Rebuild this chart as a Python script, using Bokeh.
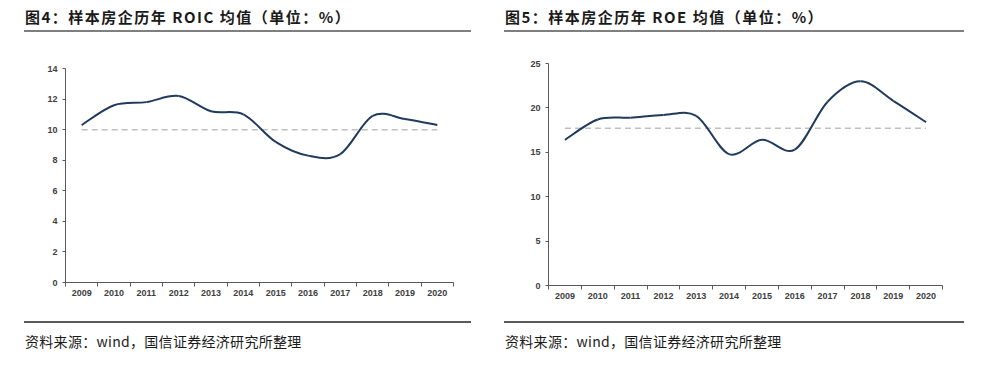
from bokeh.plotting import figure
from bokeh.models import ColumnDataSource, FixedTicker, Range1d, Div
from bokeh.layouts import row, column
from bokeh.embed import file_html
from bokeh.resources import INLINE

# ---- data ----
years = ["2009", "2010", "2011", "2012", "2013", "2014",
         "2015", "2016", "2017", "2018", "2019", "2020"]
roic = [10.3, 11.6, 11.8, 12.2, 11.2, 11.0, 9.2, 8.3, 8.4, 10.9, 10.7, 10.3]
roic_ref = 10.0
roe = [16.4, 18.7, 18.9, 19.2, 19.1, 14.8, 16.4, 15.3, 20.7, 23.0, 20.8, 18.4]
roe_ref = 17.7
roic_ticks = [0, 2, 4, 6, 8, 10, 12, 14]
roe_ticks = [0, 5, 10, 15, 20, 25]
title_left = "图4：样本房企历年 ROIC 均值（单位：%）"
title_right = "图5：样本房企历年 ROE 均值（单位：%）"
source_text = "资料来源：wind，国信证券经济研究所整理"

LINE = "#1f3a5c"
CJK = "'Noto Sans CJK SC'"
HEAD_H = 40
CHART_H = 270
FOOT_H = 74


def bezier_source(vals):
    n = len(vals)
    xs = [i + 0.5 for i in range(n)]
    d = dict(x0=[], y0=[], x1=[], y1=[], cx0=[], cy0=[], cx1=[], cy1=[])
    for i in range(n - 1):
        a = max(i - 1, 0)
        b = min(i + 2, n - 1)
        d["x0"].append(xs[i]); d["y0"].append(vals[i])
        d["x1"].append(xs[i + 1]); d["y1"].append(vals[i + 1])
        d["cx0"].append(xs[i] + (xs[i + 1] - xs[a]) / 6)
        d["cy0"].append(vals[i] + (vals[i + 1] - vals[a]) / 6)
        d["cx1"].append(xs[i + 1] - (xs[b] - xs[i]) / 6)
        d["cy1"].append(vals[i + 1] - (vals[b] - vals[i]) / 6)
    return ColumnDataSource(d)


def header(width, title, tx, r0, r1):
    html = (
        f'<div style="position:relative;width:{width}px;height:{HEAD_H}px;">'
        f'<div style="position:absolute;left:{tx}px;top:6px;font-family:{CJK};'
        f'font-size:15px;font-weight:bold;letter-spacing:1.5px;line-height:22px;'
        f'color:#1a1a1a;white-space:nowrap;">{title}</div>'
        f'<div style="position:absolute;left:{r0}px;top:30px;width:{r1 - r0}px;'
        f'height:2px;background:#7f7f7f;"></div></div>'
    )
    return Div(text=html, width=width, height=HEAD_H, margin=(0, 0, 0, 0))


def footer(width, tx, r0, r1):
    html = (
        f'<div style="position:relative;width:{width}px;height:{FOOT_H}px;">'
        f'<div style="position:absolute;left:{r0}px;top:11px;width:{r1 - r0}px;'
        f'height:1.5px;background:#595959;"></div>'
        f'<div style="position:absolute;left:{tx}px;top:21px;font-family:{CJK};'
        f'font-size:14px;letter-spacing:0.3px;line-height:20px;color:#1a1a1a;'
        f'white-space:nowrap;">{source_text}</div></div>'
    )
    return Div(text=html, width=width, height=FOOT_H, margin=(0, 0, 0, 0))


def chart(vals, ref, ticks, width, left, right, top, bottom):
    p = figure(width=width, height=CHART_H, output_backend="svg", toolbar_location=None,
               x_range=Range1d(0, len(years)), y_range=Range1d(ticks[0], ticks[-1]),
               min_border_left=left, min_border_right=right,
               min_border_top=top, min_border_bottom=bottom)
    p.outline_line_color = None
    p.grid.visible = False
    p.background_fill_color = "white"
    p.border_fill_color = "white"

    p.xaxis.ticker = FixedTicker(ticks=[i + 0.5 for i in range(len(years))],
                                 minor_ticks=list(range(len(years) + 1)))
    p.xaxis.major_label_overrides = {i + 0.5: y for i, y in enumerate(years)}
    p.xaxis.major_tick_out = 0
    p.xaxis.major_tick_in = 0
    p.xaxis.minor_tick_out = 4
    p.xaxis.minor_tick_in = 0
    p.yaxis.ticker = FixedTicker(ticks=ticks)
    p.yaxis.major_tick_out = 3
    p.yaxis.major_tick_in = 0
    p.yaxis.minor_tick_out = 0
    p.yaxis.minor_tick_in = 0
    for ax in (p.xaxis, p.yaxis):
        ax.axis_line_color = "#595959"
        ax.major_tick_line_color = "#595959"
        ax.minor_tick_line_color = "#595959"
        ax.major_label_text_font = "Liberation Sans"
        ax.major_label_text_font_size = "9px"
        ax.major_label_text_font_style = "bold"
        ax.major_label_text_color = "#404040"
    p.xaxis.major_label_standoff = 3
    p.yaxis.major_label_standoff = 5

    p.segment(x0=[0.5], y0=[ref], x1=[len(years) - 0.5], y1=[ref],
              line_color="#bfbfbf", line_width=1.5, line_dash="6 4")
    p.bezier(x0="x0", y0="y0", x1="x1", y1="y1", cx0="cx0", cy0="cy0",
             cx1="cx1", cy1="cy1", source=bezier_source(vals),
             line_color=LINE, line_width=2)
    return p


# left panel: page x 0..484 ; right panel: page x 484..984
W1, W2 = 484, 500
left_panel = column(
    header(W1, title_left, 25, 24, 471),
    chart(roic, roic_ref, roic_ticks, W1, 65, W1 - 453, 68 - HEAD_H, HEAD_H + CHART_H - 282),
    footer(W1, 25, 24, 471),
    spacing=0)
right_panel = column(
    header(W2, title_right, 21, 20, 480),
    chart(roe, roe_ref, roe_ticks, W2, 64, W2 - 458, 63 - HEAD_H, HEAD_H + CHART_H - 285),
    footer(W2, 21, 20, 480),
    spacing=0)
layout = row(left_panel, right_panel, spacing=0)

open("out.html", "w").write(file_html(layout, INLINE))
